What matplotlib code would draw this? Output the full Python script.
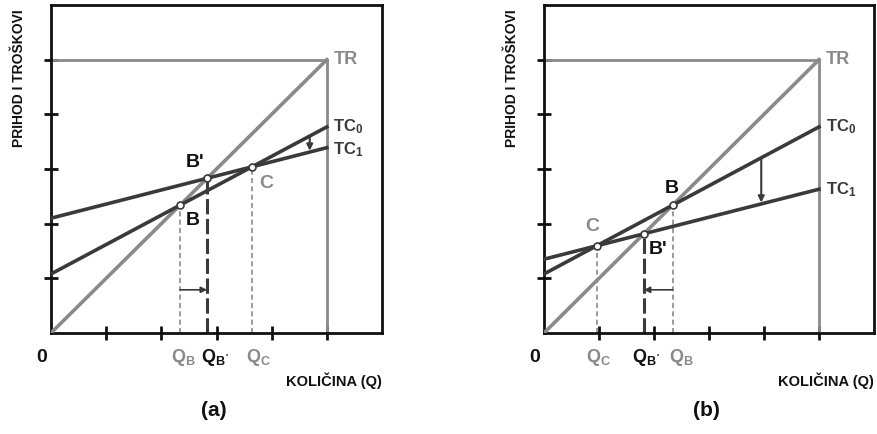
import matplotlib
matplotlib.use("Agg")
import matplotlib.pyplot as plt
import numpy as np

plt.rcParams['font.family'] = ['Liberation Sans', 'DejaVu Sans']
plt.rcParams['font.weight'] = 'bold'
plt.rcParams['mathtext.fontset'] = 'custom'
plt.rcParams['mathtext.rm'] = 'Liberation Sans:bold'
plt.rcParams['mathtext.it'] = 'Liberation Sans:bold'
plt.rcParams['mathtext.bf'] = 'Liberation Sans:bold'

# ---- data ----
x_ends = [0, 5]
tr_vals = [0, 5]
tc0_a = [1.08, 3.77]
tc1_a = [2.10, 3.39]
tc0_b = [1.08, 3.77]
tc1_b = [1.35, 2.63]
x_ticks = [1, 2, 3, 4, 5]
y_ticks = [1, 2, 3, 4, 5]
panel_labels = ['(a)', '(b)']
xlabel = 'KOLIČINA (Q)'
ylabel = 'PRIHOD I TROŠKOVI'

GREY = '#8a8a8a'
DARK = '#3a3a3a'


def line_params(v):
    return v[0], (v[1] - v[0]) / (x_ends[1] - x_ends[0])


def inter(p, q):
    (a1, b1), (a2, b2) = line_params(p), line_params(q)
    x = (a2 - a1) / (b1 - b2)
    return x, a1 + b1 * x


fig = plt.figure(figsize=(8.77, 4.34), dpi=100)
positions = [[51 / 877, 101 / 434, 331 / 877, 328 / 434],
             [544 / 877, 101 / 434, 330 / 877, 328 / 434]]
# label offsets (B, B', C) per panel
q_offsets = [(0.07, 0.14, 0.11), (0.16, 0.04, 0.03)]

for k, (tc0, tc1) in enumerate([(tc0_a, tc1_a), (tc0_b, tc1_b)]):
    ax = fig.add_axes(positions[k])
    ax.set_xlim(0, 6)
    ax.set_ylim(0, 6)
    for s in ax.spines.values():
        s.set_linewidth(2)
        s.set_color('#111111')
    ax.set_xticks(x_ticks)
    ax.set_yticks(y_ticks)
    ax.set_xticklabels([])
    ax.set_yticklabels([])
    ax.tick_params(direction='inout', length=10, width=2, color='#111111')

    # TR and box lines
    ax.plot([0, x_ends[1]], [tr_vals[1], tr_vals[1]], color=GREY, lw=2, zorder=2)
    ax.plot([x_ends[1], x_ends[1]], [0, tr_vals[1]], color=GREY, lw=2, zorder=2)
    ax.plot(x_ends, tr_vals, color=GREY, lw=2.6, zorder=3)
    ax.plot(x_ends, tc0, color=DARK, lw=2.6, zorder=4)
    ax.plot(x_ends, tc1, color=DARK, lw=2.6, zorder=4)

    B = inter(tr_vals, tc0)
    Bp = inter(tr_vals, tc1)
    C = inter(tc0, tc1)

    ax.plot([B[0], B[0]], [0, B[1]], color=GREY, lw=1.2, ls=(0, (3, 2)), zorder=2)
    ax.plot([C[0], C[0]], [0, C[1]], color=GREY, lw=1.2, ls=(0, (3, 2)), zorder=2)
    ax.plot([Bp[0], Bp[0]], [0, Bp[1]], color=DARK, lw=2.2, ls=(0, (5, 1.5)), zorder=2)

    for P in (B, Bp, C):
        ax.plot(P[0], P[1], 'o', ms=5, mfc='white', mec=DARK, mew=1.2, zorder=6)

    # horizontal arrow
    ax.annotate('', xy=(Bp[0], 0.79), xytext=(B[0], 0.79),
                arrowprops=dict(arrowstyle='-|>', color=DARK, lw=1.2,
                                mutation_scale=9, shrinkA=0, shrinkB=0), zorder=5)

    a0, b0 = line_params(tc0)
    a1, b1 = line_params(tc1)
    xv = 4.69 if k == 0 else 3.95
    ax.annotate('', xy=(xv, a1 + b1 * xv), xytext=(xv, a0 + b0 * xv),
                arrowprops=dict(arrowstyle='-|>', color=DARK, lw=1.5,
                                mutation_scale=9, shrinkA=0, shrinkB=1), zorder=5)

    # labels
    ax.text(5.12, 5.0, 'TR', color=GREY, fontsize=13, va='center', ha='left')
    ax.text(5.12, tc0[1], 'TC$_{0}$', color=DARK, fontsize=12, va='center', ha='left')
    ax.text(5.12, tc1[1] - (0.03 if k == 0 else 0), 'TC$_{1}$', color=DARK, fontsize=12,
            va='center', ha='left')

    if k == 0:
        ax.text(2.62, 3.12, "B'", fontsize=14, color='#111111', ha='center', va='center')
        ax.text(2.57, 2.05, 'B', fontsize=14, color='#111111', ha='center', va='center')
        ax.text(3.9, 2.74, 'C', fontsize=14, color=GREY, ha='center', va='center')
    else:
        ax.text(2.33, 2.65, 'B', fontsize=14, color='#111111', ha='center', va='center')
        ax.text(2.07, 1.52, "B'", fontsize=14, color='#111111', ha='center', va='center')
        ax.text(0.88, 1.94, 'C', fontsize=14, color=GREY, ha='center', va='center')

    ax.text(-0.17, -0.45, '0', fontsize=14, color='#111111', ha='center', va='center',
            clip_on=False)
    qy = -0.45
    ob, obp, oc = q_offsets[k]
    ax.text(B[0] + ob, qy, 'Q$_{B}$', fontsize=13, color=GREY, ha='center', va='center',
            clip_on=False)
    ax.text(Bp[0] + obp, qy, "Q$_{B'}$", fontsize=13, color='#111111', ha='center',
            va='center', clip_on=False)
    ax.text(C[0] + oc, qy, 'Q$_{C}$', fontsize=13, color=GREY, ha='center', va='center',
            clip_on=False)

    ax.text(6.0, -0.88, xlabel, fontsize=10.5, color='#111111', ha='right', va='center',
            clip_on=False)
    ax.text(-0.58, 5.92, ylabel, fontsize=10, color='#111111', rotation=90,
            ha='center', va='top', clip_on=False)
    ax.text(2.95, -1.42, panel_labels[k], fontsize=15, color='#111111', ha='center',
            va='center', clip_on=False)

fig.savefig('out.png', dpi=100)
